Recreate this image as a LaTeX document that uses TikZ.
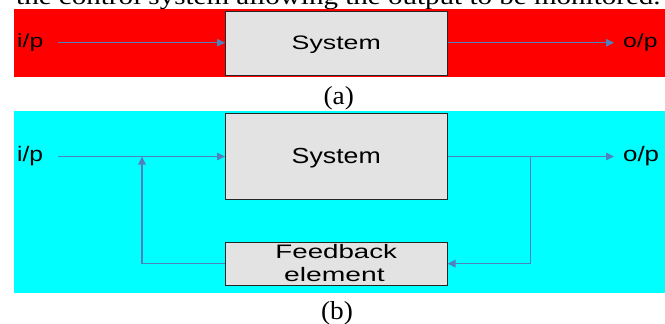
\documentclass[tikz,border=0pt]{standalone}
\usepackage{fontspec}
\setmainfont{Liberation Serif}
\newfontfamily\diagfont{Liberation Sans}
\usetikzlibrary{arrows.meta}
\definecolor{flowblue}{RGB}{79,129,189}
\definecolor{boxgrey}{RGB}{227,227,227}
\definecolor{bandred}{RGB}{255,0,0}
\definecolor{bandcyan}{RGB}{0,255,255}
% text at a given size, stretched horizontally
\newcommand{\widetext}[3]{{\fontsize{#1pt}{#1pt}\selectfont\scalebox{#2}[1]{#3}}}
\begin{document}
\begin{tikzpicture}[x=1pt,y=-1pt,
  block/.style={draw=black!85, line width=0.9pt, fill=boxgrey,
    minimum width=222.5pt, inner sep=0pt, outer sep=0pt},
  link/.style={draw=flowblue, line width=1.2pt, -{Triangle[length=8pt,width=7.5pt]}},
  plain/.style={draw=flowblue, line width=1.2pt},
  lbl/.style={inner sep=0pt, anchor=base, font=\diagfont},
  caption/.style={inner sep=0pt, anchor=base}
]
\useasboundingbox (0,0) rectangle (665,324);
\clip (0,0) rectangle (665,324);

% running text above the figure
\node[caption, anchor=base west] (runtext) at (16,4.5)
  {\widetext{24}{1.21}{the control system allowing the output to be monitored.}};

% ---------- (a) open loop ----------
\fill[bandred] (14,9) rectangle (665,76.7);
\node[block, minimum height=64pt] (sysA) at (336.25,43) {};
\node[lbl] (sysAtxt) at (336.25,49) {\widetext{19.5}{1.37}{System}};
\node[lbl, anchor=base west] (ipA) at (17,47.6) {\widetext{19}{1.3}{i/p}};
\node[lbl, anchor=base west] (opA) at (623,47.6) {\widetext{19}{1.3}{o/p}};
\coordinate (inA) at (58,42.7);
\coordinate (outA) at (614,42.7);
\draw[link] (inA) -- (inA -| sysA.west);
\draw[link] (outA -| sysA.east) -- (outA);
\node[caption] (capA) at (338.8,104) {\widetext{26}{1.05}{(a)}};

% ---------- (b) closed loop ----------
\fill[bandcyan] (14,111) rectangle (665,293);
\node[block, minimum height=85.8pt] (sysB) at (336.25,156.4) {};
\node[lbl] (sysBtxt) at (336.25,163.3) {\widetext{21.8}{1.225}{System}};
\node[block, minimum height=43.2pt] (fb) at (336.25,263.9) {};
\node[lbl] (fbtxt1) at (336.25,258.3) {\widetext{19.5}{1.42}{Feedback}};
\node[lbl] (fbtxt2) at (334.5,281.7) {\widetext{19.5}{1.45}{element}};
\node[lbl, anchor=base west] (ipB) at (17,161.7) {\widetext{21}{1.17}{i/p}};
\node[lbl, anchor=base west] (opB) at (623,161.7) {\widetext{21}{1.23}{o/p}};
\coordinate (inB) at (58,156.5);
\coordinate (outB) at (614,156.5);
\coordinate (sumpt) at (142,156.5);
\coordinate (tappt) at (530.5,156.5);
\coordinate (fbrow) at (0,263.6);
\draw[link] (inB) -- (inB -| sysB.west);
\draw[link] (outB -| sysB.east) -- (outB);
\draw[plain] (fbrow -| fb.west) -- (fbrow -| sumpt);
\draw[link] (fbrow -| sumpt) -- (sumpt);
\draw[plain] (tappt) -- (fbrow -| tappt);
\draw[link] (fbrow -| tappt) -- (fbrow -| fb.east);
\node[caption] (capB) at (337,319) {\widetext{26}{1.05}{(b)}};
\end{tikzpicture}
\end{document}
